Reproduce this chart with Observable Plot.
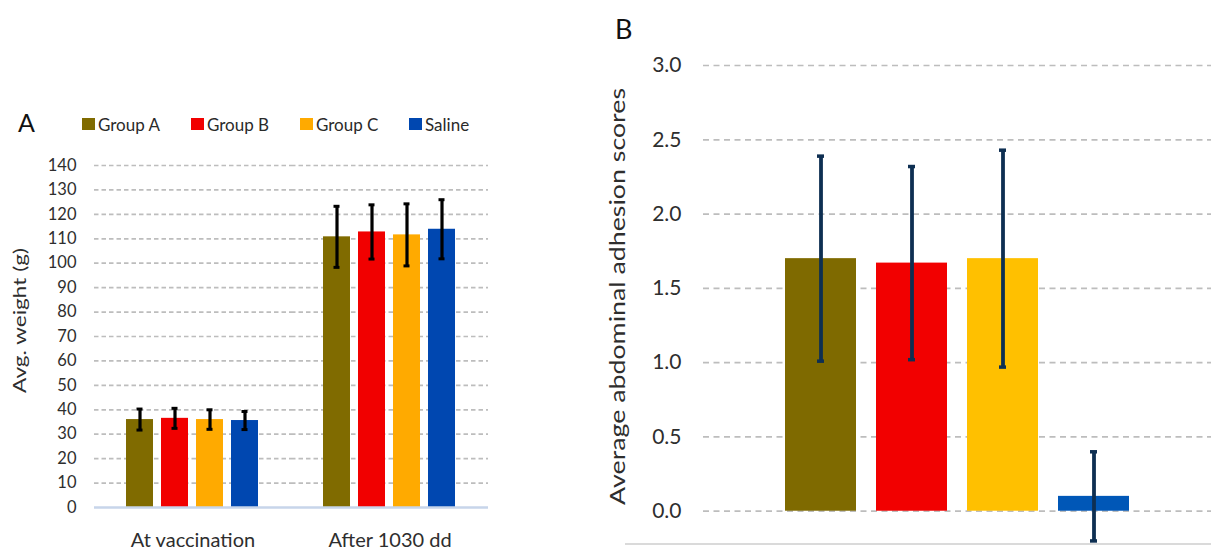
<!DOCTYPE html>
<html>
<head>
<meta charset="utf-8">
<script src="https://cdn.jsdelivr.net/npm/d3@7"></script>
<script src="https://cdn.jsdelivr.net/npm/@observablehq/plot@0.6"></script>
<style>
  html, body { margin: 0; padding: 0; background: #fff; }
  #wrap { position: relative; width: 1211px; height: 550px; overflow: hidden; font-family: Lato, "Open Sans", sans-serif; color: #2e2e2e; }
  .abs { position: absolute; }
  #panelA { left: 0; top: 0; }
  #panelB { left: 600px; top: 0; }
  .letter { color: #111; line-height: 1; }
  #legend { position: absolute; left: 82px; top: 114px; display: flex; height: 20px; align-items: center; }
  .item { width: 109px; display: flex; align-items: center; font-size: 17px; color: #2a2a2a; white-space: nowrap; }
  .sw { width: 13px; height: 12px; margin-right: 3px; }
  #baseB { left: 625px; top: 543px; width: 586px; height: 1.5px; background: #dadada; }
</style>
</head>
<body>
<div id="wrap"></div>
<script>
// ---------- data ----------
const groups = ["Group A", "Group B", "Group C", "Saline"];
const timepoints = ["At vaccination", "After 1030 dd"];

const weightMeanVacc  = [36.0, 36.5, 36.0, 35.6];
const weightErrVacc   = [4.3, 4.1, 4.0, 3.7];
const weightMeanAfter = [110.8, 112.8, 111.6, 113.9];
const weightErrAfter  = [12.5, 11.1, 12.7, 12.1];
const weightTicks = [0, 10, 20, 30, 40, 50, 60, 70, 80, 90, 100, 110, 120, 130, 140];

const adhesionMean = [1.70, 1.67, 1.70, 0.10];
const adhesionErr  = [0.69, 0.65, 0.73, 0.30];
const adhesionTicks = [0, 0.5, 1.0, 1.5, 2.0, 2.5, 3.0];

const colorsA = ["#806b00", "#f10000", "#ffaa00", "#0047b0"];
const colorsB = ["#7f6a00", "#f20000", "#ffc000", "#0057b7"];

const yLabelA = "Avg. weight (g)";
const yLabelB = "Average abdominal adhesion scores";

// ---------- tables ----------
const weightMeans = [weightMeanVacc, weightMeanAfter];
const weightErrs = [weightErrVacc, weightErrAfter];
const rowsA = timepoints.flatMap((t, i) => groups.map((g, j) => ({
  time: t, group: g, mean: weightMeans[i][j], err: weightErrs[i][j]
})));
const rowsB = groups.map((g, j) => ({group: g, mean: adhesionMean[j], err: adhesionErr[j]}));

const wrap = document.getElementById("wrap");

// ---------- panel A ----------
const plotA = Plot.plot({
  width: 600, height: 550,
  marginTop: 165, marginBottom: 43, marginLeft: 93, marginRight: 112,
  style: {fontFamily: "Lato, sans-serif", fontSize: "16px", color: "#2e2e2e", background: "transparent", overflow: "visible"},
  fx: {domain: timepoints, padding: 0},
  x: {domain: groups, paddingInner: 0.222, paddingOuter: 0.854, axis: null},
  y: {domain: [0, 140]},
  color: {domain: groups, range: colorsA},
  marks: [
    Plot.ruleY(weightTicks.filter(d => d > 0), {stroke: "#bdbdbd", strokeWidth: 1.7, strokeDasharray: "4.5,3"}),
    Plot.barY(rowsA, {fx: "time", x: "group", y: "mean", fill: "group"}),
    Plot.ruleY([0], {stroke: "#c7d5ea", strokeWidth: 2.5}),
    Plot.ruleX(rowsA, {fx: "time", x: "group", y1: d => d.mean - d.err, y2: d => d.mean + d.err, stroke: "#000", strokeWidth: 3.2}),
    Plot.tickY(rowsA, {fx: "time", x: "group", y: d => d.mean + d.err, stroke: "#000", strokeWidth: 3, inset: 10.5}),
    Plot.tickY(rowsA, {fx: "time", x: "group", y: d => d.mean - d.err, stroke: "#000", strokeWidth: 3, inset: 10.5}),
    Plot.axisY(weightTicks, {tickSize: 0, tickPadding: 18, label: null, fontSize: 16.5}),
    Plot.axisFx({anchor: "bottom", tickSize: 0, tickPadding: 25, label: null, fontSize: 20})
  ]
});
plotA.classList.add("abs");
plotA.id = "panelA";
d3.select(plotA).append("text")
  .attr("transform", "translate(20,320.5) rotate(-90)")
  .attr("text-anchor", "middle").attr("dy", "0.35em")
  .attr("textLength", 145).attr("lengthAdjust", "spacingAndGlyphs")
  .attr("fill", "#2e2e2e").style("font-size", "18px")
  .text(yLabelA);
wrap.appendChild(plotA);

// ---------- panel B ----------
const plotB = Plot.plot({
  width: 611, height: 550,
  marginTop: 65, marginBottom: 6, marginLeft: 103, marginRight: 0,
  style: {fontFamily: "Lato, sans-serif", fontSize: "21px", color: "#2e2e2e", background: "transparent", overflow: "visible"},
  x: {domain: groups, paddingInner: 0.217, paddingOuter: 0.875, axis: null},
  y: {domain: [-0.224, 3]},
  color: {domain: groups, range: colorsB},
  marks: [
    Plot.ruleY(adhesionTicks, {stroke: "#bdbdbd", strokeWidth: 1.7, strokeDasharray: "6,4.5"}),
    Plot.barY(rowsB, {x: "group", y: "mean", fill: "group"}),
    Plot.ruleX(rowsB, {x: "group", y1: d => d.mean - d.err, y2: d => d.mean + d.err, stroke: "#0e2f52", strokeWidth: 3.8}),
    Plot.tickY(rowsB, {x: "group", y: d => d.mean + d.err, stroke: "#0e2f52", strokeWidth: 3.5, inset: 32}),
    Plot.tickY(rowsB, {x: "group", y: d => d.mean - d.err, stroke: "#0e2f52", strokeWidth: 3.5, inset: 32}),
    Plot.axisY(adhesionTicks, {tickSize: 0, tickPadding: 22, tickFormat: d => d.toFixed(1), label: null, fontSize: 21})
  ]
});
plotB.classList.add("abs");
plotB.id = "panelB";
d3.select(plotB).append("text")
  .attr("transform", "translate(17.5,296.5) rotate(-90)")
  .attr("text-anchor", "middle").attr("dy", "0.35em")
  .attr("textLength", 417).attr("lengthAdjust", "spacingAndGlyphs")
  .attr("fill", "#2e2e2e").style("font-size", "21px")
  .text(yLabelB);
wrap.appendChild(plotB);

// ---------- panel letters, legend, frame line ----------
const letterA = document.createElement("div");
letterA.className = "abs letter"; letterA.textContent = "A";
Object.assign(letterA.style, {left: "18px", top: "110px", fontSize: "25px"});
wrap.appendChild(letterA);

const letterB = document.createElement("div");
letterB.className = "abs letter"; letterB.textContent = "B";
Object.assign(letterB.style, {left: "615px", top: "15px", fontSize: "27px"});
wrap.appendChild(letterB);

const legend = document.createElement("div");
legend.id = "legend";
groups.forEach((g, j) => {
  const item = document.createElement("div");
  item.className = "item";
  const sw = document.createElement("span");
  sw.className = "sw"; sw.style.background = colorsA[j];
  const tx = document.createElement("span");
  tx.textContent = g;
  item.appendChild(sw); item.appendChild(tx);
  legend.appendChild(item);
});
wrap.appendChild(legend);

const baseB = document.createElement("div");
baseB.className = "abs"; baseB.id = "baseB";
wrap.appendChild(baseB);
</script>
</body>
</html>
